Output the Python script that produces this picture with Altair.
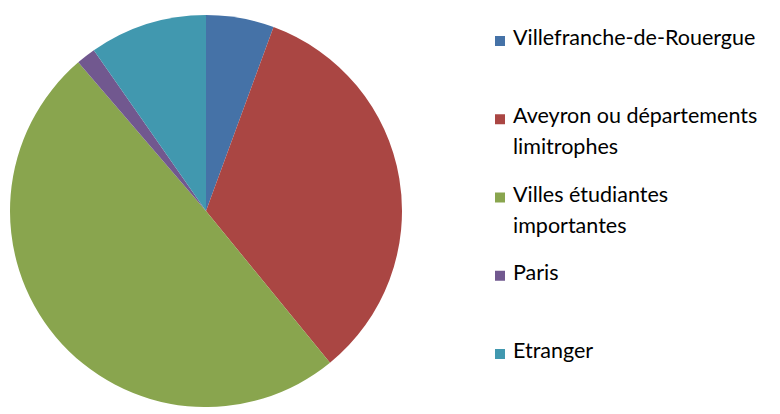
import altair as alt
import pandas as pd

categories = [
    "Villefranche-de-Rouergue",
    "Aveyron ou départements limitrophes",
    "Villes étudiantes importantes",
    "Paris",
    "Etranger",
]
legend_labels = [
    "Villefranche-de-Rouergue",
    "Aveyron ou départements|limitrophes",
    "Villes étudiantes|importantes",
    "Paris",
    "Etranger",
]
values = [5.6, 33.5, 49.6, 1.6, 9.7]
colors = ["#4572A7", "#AA4643", "#89A54E", "#71588F", "#4198AF"]

df = pd.DataFrame({
    "cat": categories,
    "label": legend_labels,
    "value": values,
    "order": list(range(len(categories))),
})

color = alt.Color("cat:N", scale=alt.Scale(domain=categories, range=colors), legend=None)
ypos = alt.Y("cat:N", sort=categories, axis=None,
             scale=alt.Scale(type="point", range=[33, 346], padding=0))

pie = alt.Chart(df).mark_arc(outerRadius=196).encode(
    theta=alt.Theta("value:Q", stack=True),
    color=color,
    order=alt.Order("order:Q"),
    x=alt.value(198),
    y=alt.value(203),
)

squares = alt.Chart(df).mark_square(size=100, opacity=1).encode(
    x=alt.value(492),
    y=ypos,
    color=color,
)

texts = alt.Chart(df).mark_text(
    align="left", baseline="top", dy=-13, lineBreak="|", lineHeight=31,
    font="Lato", fontSize=21.5, color="#000000",
).encode(
    x=alt.value(505),
    y=ypos,
    text="label:N",
)

chart = alt.layer(pie, squares, texts).properties(
    width=764, height=398, background="white", padding=0
).configure_view(stroke=None)

chart.save("out.html", embed_options={"renderer": "svg", "actions": False})
